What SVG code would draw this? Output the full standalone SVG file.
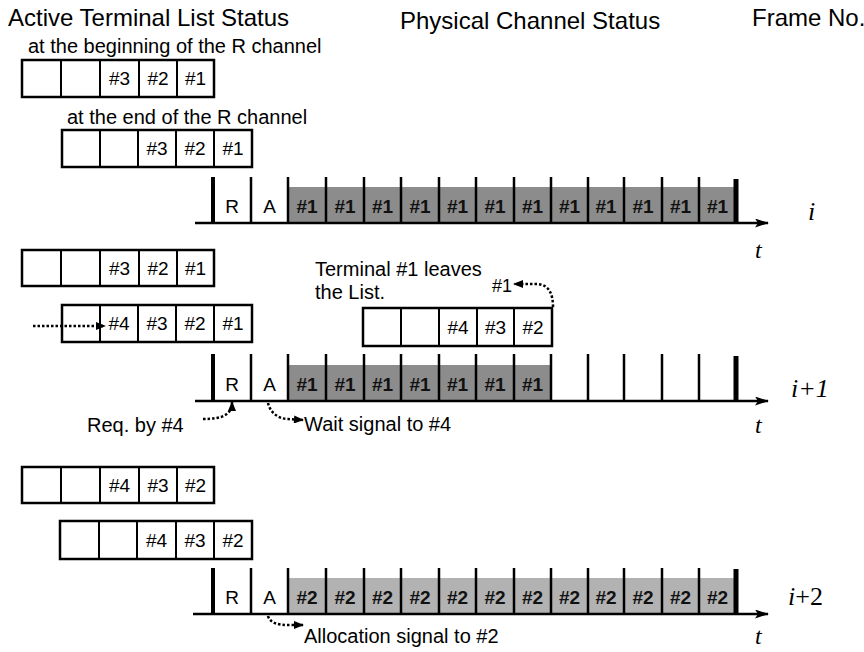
<svg xmlns="http://www.w3.org/2000/svg" width="864" height="652" viewBox="0 0 864 652">
<style>
  .t{font-family:"Liberation Sans",Arial,sans-serif;fill:#000}
  .title{font-size:24px}
  .note{font-size:20px}
  .cell{font-size:19px;text-anchor:middle}
  .sh{font-size:19px;text-anchor:middle;font-weight:bold;fill:#111}
  .box{fill:#fff;stroke:#000;stroke-width:2.5}
  .div{stroke:#000;stroke-width:2}
  .bar{stroke:#000;stroke-width:2.5}
  .bar0{stroke:#000;stroke-width:4}
  .barE{stroke:#000;stroke-width:5}
  .axis{stroke:#000;stroke-width:2.5;fill:none}
  .dot{stroke:#000;stroke-width:2.5;fill:none;stroke-dasharray:2.5 2}
  .s1{fill:#8c8c8c}
  .s2{fill:#b2b2b2}
  .it{font-family:"Liberation Serif","Times New Roman",serif;font-style:italic;font-size:26px}
  .rn{font-family:"Liberation Serif","Times New Roman",serif;font-size:26px}
  .tt{font-family:"Liberation Serif","Times New Roman",serif;font-style:italic;font-size:24px}
</style>
<defs>
  <marker id="ah" viewBox="0 0 10 8" refX="9" refY="4" markerWidth="11" markerHeight="8" markerUnits="userSpaceOnUse" orient="auto">
    <path d="M0,0 L10,4 L0,8 Z" fill="#000"/>
  </marker>
  <marker id="ax" viewBox="0 0 14 9" refX="13" refY="4.5" markerWidth="15" markerHeight="9" markerUnits="userSpaceOnUse" orient="auto">
    <path d="M0,0 L14,4.5 L0,9 L3,4.5 Z" fill="#000"/>
  </marker>
</defs>

<g id="headers">
  <text class="t title" x="8" y="26">Active Terminal List Status</text>
  <text class="t title" x="400" y="29">Physical Channel Status</text>
  <text class="t title" x="752" y="26">Frame No.</text>
</g>

<!-- Frame i lists -->
<g id="list-i-begin">
  <text class="t note" x="28" y="53">at the beginning of the R channel</text>
  <rect class="box" x="22" y="60" width="192" height="37"/>
  <line class="div" x1="61" y1="60" x2="61" y2="97"/>
  <line class="div" x1="100" y1="60" x2="100" y2="97"/>
  <line class="div" x1="139" y1="60" x2="139" y2="97"/>
  <line class="div" x1="177" y1="60" x2="177" y2="97"/>
  <text class="t cell" x="119.5" y="85">#3</text>
  <text class="t cell" x="158" y="85">#2</text>
  <text class="t cell" x="195.5" y="85">#1</text>
</g>
<g id="list-i-end">
  <text class="t note" x="67" y="124">at the end of the R channel</text>
  <rect class="box" x="62" y="130" width="190" height="37"/>
  <line class="div" x1="100" y1="130" x2="100" y2="167"/>
  <line class="div" x1="138" y1="130" x2="138" y2="167"/>
  <line class="div" x1="176" y1="130" x2="176" y2="167"/>
  <line class="div" x1="214" y1="130" x2="214" y2="167"/>
  <text class="t cell" x="157" y="155">#3</text>
  <text class="t cell" x="195" y="155">#2</text>
  <text class="t cell" x="233" y="155">#1</text>
</g>

<g id="frame-i">
  <rect class="s1" x="288" y="187" width="448" height="36"/>
  <line class="bar0" x1="213" y1="177" x2="213" y2="223"/>
  <line class="bar" x1="251" y1="177" x2="251" y2="223"/>
  <line class="bar" x1="288" y1="177" x2="288" y2="223"/>
  <line class="bar" x1="326" y1="177" x2="326" y2="223"/>
  <line class="bar" x1="364" y1="177" x2="364" y2="223"/>
  <line class="bar" x1="401" y1="177" x2="401" y2="223"/>
  <line class="bar" x1="439" y1="177" x2="439" y2="223"/>
  <line class="bar" x1="476" y1="177" x2="476" y2="223"/>
  <line class="bar" x1="514" y1="177" x2="514" y2="223"/>
  <line class="bar" x1="551" y1="177" x2="551" y2="223"/>
  <line class="bar" x1="588" y1="177" x2="588" y2="223"/>
  <line class="bar" x1="624" y1="177" x2="624" y2="223"/>
  <line class="bar" x1="662" y1="177" x2="662" y2="223"/>
  <line class="bar" x1="699" y1="177" x2="699" y2="223"/>
  <line class="barE" x1="736" y1="179" x2="736" y2="223"/>
  <line class="axis" x1="195" y1="223" x2="768" y2="223" marker-end="url(#ax)"/>
  <text class="t cell" x="232" y="213">R</text>
  <text class="t cell" x="269.5" y="213">A</text>
  <text class="t sh" x="307" y="213">#1</text>
  <text class="t sh" x="345" y="213">#1</text>
  <text class="t sh" x="382.5" y="213">#1</text>
  <text class="t sh" x="420" y="213">#1</text>
  <text class="t sh" x="457.5" y="213">#1</text>
  <text class="t sh" x="495" y="213">#1</text>
  <text class="t sh" x="532.5" y="213">#1</text>
  <text class="t sh" x="569.5" y="213">#1</text>
  <text class="t sh" x="606" y="213">#1</text>
  <text class="t sh" x="643" y="213">#1</text>
  <text class="t sh" x="680.5" y="213">#1</text>
  <text class="t sh" x="717.5" y="213">#1</text>
  <text class="it" x="808" y="220">i</text>
  <text class="tt" x="755" y="258">t</text>
</g>

<!-- Frame i+1 -->
<g id="list-i1-begin">
  <rect class="box" x="22" y="250" width="192" height="36"/>
  <line class="div" x1="61" y1="250" x2="61" y2="286"/>
  <line class="div" x1="100" y1="250" x2="100" y2="286"/>
  <line class="div" x1="139" y1="250" x2="139" y2="286"/>
  <line class="div" x1="177" y1="250" x2="177" y2="286"/>
  <text class="t cell" x="119.5" y="275">#3</text>
  <text class="t cell" x="158" y="275">#2</text>
  <text class="t cell" x="195.5" y="275">#1</text>
</g>
<g id="list-i1-end">
  <rect class="box" x="62" y="305" width="190" height="37"/>
  <line class="div" x1="100" y1="305" x2="100" y2="342"/>
  <line class="div" x1="138" y1="305" x2="138" y2="342"/>
  <line class="div" x1="176" y1="305" x2="176" y2="342"/>
  <line class="div" x1="214" y1="305" x2="214" y2="342"/>
  <text class="t cell" x="119" y="330">#4</text>
  <text class="t cell" x="157" y="330">#3</text>
  <text class="t cell" x="195" y="330">#2</text>
  <text class="t cell" x="233" y="330">#1</text>
</g>
<g id="list-i1-leave">
  <text class="t note" x="315" y="276">Terminal #1 leaves</text>
  <text class="t note" x="315" y="299">the List.</text>
  <text class="t cell" x="492" y="292" style="text-anchor:start;font-size:18px">#1</text>
  <rect class="box" x="363" y="308" width="189" height="38"/>
  <line class="div" x1="401" y1="308" x2="401" y2="346"/>
  <line class="div" x1="439" y1="308" x2="439" y2="346"/>
  <line class="div" x1="477" y1="308" x2="477" y2="346"/>
  <line class="div" x1="514" y1="308" x2="514" y2="346"/>
  <text class="t cell" x="458" y="334">#4</text>
  <text class="t cell" x="495.5" y="334">#3</text>
  <text class="t cell" x="533" y="334">#2</text>
</g>

<g id="frame-i1">
  <rect class="s1" x="288" y="365" width="263" height="36"/>
  <line class="bar0" x1="213" y1="354" x2="213" y2="401"/>
  <line class="bar" x1="251" y1="354" x2="251" y2="401"/>
  <line class="bar" x1="288" y1="354" x2="288" y2="401"/>
  <line class="bar" x1="326" y1="354" x2="326" y2="401"/>
  <line class="bar" x1="364" y1="354" x2="364" y2="401"/>
  <line class="bar" x1="401" y1="354" x2="401" y2="401"/>
  <line class="bar" x1="439" y1="354" x2="439" y2="401"/>
  <line class="bar" x1="476" y1="354" x2="476" y2="401"/>
  <line class="bar" x1="514" y1="354" x2="514" y2="401"/>
  <line class="bar" x1="551" y1="354" x2="551" y2="401"/>
  <line class="bar" x1="588" y1="354" x2="588" y2="401"/>
  <line class="bar" x1="624" y1="354" x2="624" y2="401"/>
  <line class="bar" x1="662" y1="354" x2="662" y2="401"/>
  <line class="bar" x1="699" y1="354" x2="699" y2="401"/>
  <line class="barE" x1="736" y1="356" x2="736" y2="401"/>
  <line class="axis" x1="195" y1="401" x2="768" y2="401" marker-end="url(#ax)"/>
  <text class="t cell" x="232" y="391">R</text>
  <text class="t cell" x="269.5" y="391">A</text>
  <text class="t sh" x="307" y="391">#1</text>
  <text class="t sh" x="345" y="391">#1</text>
  <text class="t sh" x="382.5" y="391">#1</text>
  <text class="t sh" x="420" y="391">#1</text>
  <text class="t sh" x="457.5" y="391">#1</text>
  <text class="t sh" x="495" y="391">#1</text>
  <text class="t sh" x="532.5" y="391">#1</text>
  <text class="it" x="791" y="397">i+1</text>
  <text class="tt" x="755" y="433">t</text>
  <text class="t note" x="87" y="432">Req. by #4</text>
  <text class="t note" x="304" y="431">Wait signal to #4</text>
</g>

<!-- Frame i+2 -->
<g id="list-i2-begin">
  <rect class="box" x="22" y="467" width="192" height="36"/>
  <line class="div" x1="61" y1="467" x2="61" y2="503"/>
  <line class="div" x1="100" y1="467" x2="100" y2="503"/>
  <line class="div" x1="139" y1="467" x2="139" y2="503"/>
  <line class="div" x1="177" y1="467" x2="177" y2="503"/>
  <text class="t cell" x="119.5" y="492">#4</text>
  <text class="t cell" x="158" y="492">#3</text>
  <text class="t cell" x="195.5" y="492">#2</text>
</g>
<g id="list-i2-end">
  <rect class="box" x="60" y="521" width="192" height="38"/>
  <line class="div" x1="99" y1="521" x2="99" y2="559"/>
  <line class="div" x1="137" y1="521" x2="137" y2="559"/>
  <line class="div" x1="176" y1="521" x2="176" y2="559"/>
  <line class="div" x1="214" y1="521" x2="214" y2="559"/>
  <text class="t cell" x="156.5" y="547">#4</text>
  <text class="t cell" x="195" y="547">#3</text>
  <text class="t cell" x="233" y="547">#2</text>
</g>

<g id="frame-i2">
  <rect class="s2" x="288" y="578" width="448" height="36"/>
  <line class="bar0" x1="213" y1="568" x2="213" y2="614"/>
  <line class="bar" x1="251" y1="568" x2="251" y2="614"/>
  <line class="bar" x1="288" y1="568" x2="288" y2="614"/>
  <line class="bar" x1="326" y1="568" x2="326" y2="614"/>
  <line class="bar" x1="364" y1="568" x2="364" y2="614"/>
  <line class="bar" x1="401" y1="568" x2="401" y2="614"/>
  <line class="bar" x1="439" y1="568" x2="439" y2="614"/>
  <line class="bar" x1="476" y1="568" x2="476" y2="614"/>
  <line class="bar" x1="514" y1="568" x2="514" y2="614"/>
  <line class="bar" x1="551" y1="568" x2="551" y2="614"/>
  <line class="bar" x1="588" y1="568" x2="588" y2="614"/>
  <line class="bar" x1="624" y1="568" x2="624" y2="614"/>
  <line class="bar" x1="662" y1="568" x2="662" y2="614"/>
  <line class="bar" x1="699" y1="568" x2="699" y2="614"/>
  <line class="barE" x1="736" y1="569" x2="736" y2="614"/>
  <line class="axis" x1="193" y1="614" x2="768" y2="614" marker-end="url(#ax)"/>
  <text class="t cell" x="232" y="604">R</text>
  <text class="t cell" x="269.5" y="604">A</text>
  <text class="t sh" x="307" y="604">#2</text>
  <text class="t sh" x="345" y="604">#2</text>
  <text class="t sh" x="382.5" y="604">#2</text>
  <text class="t sh" x="420" y="604">#2</text>
  <text class="t sh" x="457.5" y="604">#2</text>
  <text class="t sh" x="495" y="604">#2</text>
  <text class="t sh" x="532.5" y="604">#2</text>
  <text class="t sh" x="569.5" y="604">#2</text>
  <text class="t sh" x="606" y="604">#2</text>
  <text class="t sh" x="643" y="604">#2</text>
  <text class="t sh" x="680.5" y="604">#2</text>
  <text class="t sh" x="717.5" y="604">#2</text>
  <text x="788" y="605"><tspan class="it">i</tspan><tspan class="rn">+2</tspan></text>
  <text class="tt" x="755" y="644">t</text>
  <text class="t note" x="304" y="643">Allocation signal to #2</text>
</g>

<g id="connectors">
  <path class="dot" d="M33,326 L105,326" marker-end="url(#ah)"/>
  <path class="dot" d="M553,307 C553,294 549,284 536,284 L514,284" marker-end="url(#ah)"/>
  <path class="dot" d="M203,419 C222,419 232,415 232,402" marker-end="url(#ah)"/>
  <path class="dot" d="M268,403 C270,412 278,419 288,419 L303,420" marker-end="url(#ah)"/>
  <path class="dot" d="M268,616 C270,623 278,625 288,625 L303,625" marker-end="url(#ah)"/>
</g>
</svg>
